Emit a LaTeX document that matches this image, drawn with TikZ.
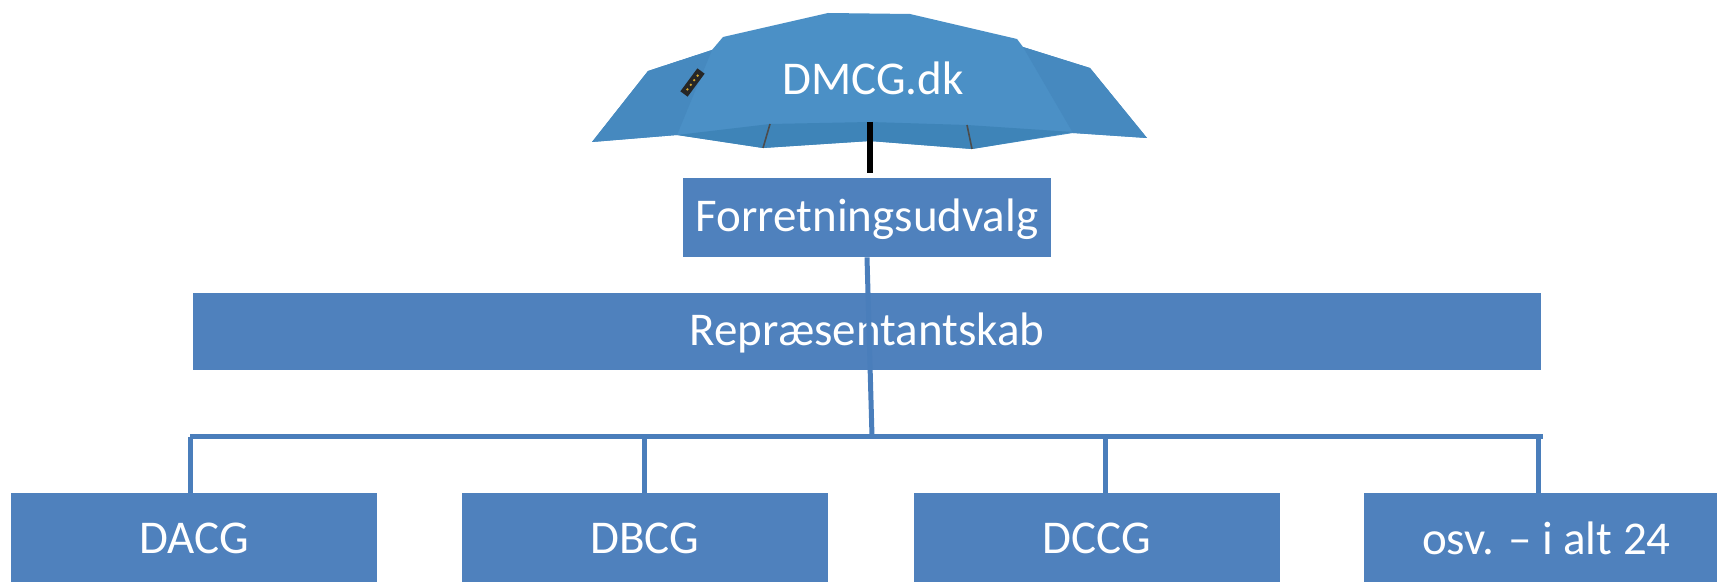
\documentclass[tikz,border=0pt]{standalone}
\usepackage{fontspec}
\setmainfont{Carlito}
\definecolor{boxblue}{HTML}{4F81BD}
\definecolor{lineblue}{HTML}{4A7EBB}
\definecolor{canopy}{HTML}{4B90C6}
\definecolor{canopyside}{HTML}{4689BF}
\definecolor{canopyunder}{HTML}{3E84B8}
\begin{document}
\begin{tikzpicture}[x=0.5pt, y=-0.5pt,
  orgbox/.style={shape=rectangle, fill=boxblue, text=white, inner sep=0pt, font=\fontsize{23.5}{28}\selectfont},
  link/.style={draw=lineblue, line width=2.5pt}]
\useasboundingbox (0,0) rectangle (1717,582);

% umbrella
\fill[canopy] (592,142) -- (648,71) -- (712,50) -- (723,37) -- (828,13) -- (910,14) -- (1017,39) -- (1023,47) -- (1090,68) -- (1147,138) -- (1073,133) -- (972,149) -- (870,141) -- (763,148) -- (677,135) -- cycle;
\fill[canopyside] (592,142) -- (648,71) -- (712,50) -- (677,135) -- cycle;
\fill[canopyside] (1023,47) -- (1090,68) -- (1147,138) -- (1073,133) -- cycle;
\fill[canopyunder] (677,135) -- (770,124) -- (870,122) -- (967,125) -- (1073,132)
  -- (972,149) -- (870,141) -- (763,148) -- cycle;
\draw[black!70, line width=0.8pt] (770,124) -- (763,148) (967,125) -- (972,149);
\draw[black!85, line width=4.5pt] (684,94) -- (701,71);
\foreach \px/\py in {687.4/89.4, 690.8/84.8, 694.2/80.2, 697.6/75.6}
  \fill[brown!70!yellow] (\px,\py) circle (1.3);
\coordinate (poletop) at (870,122);
\coordinate (polebot) at (870,173);
\draw[black, line width=3pt] (poletop) -- (polebot);
\node[text=white, font=\fontsize{23.5}{28}\selectfont] (dmcg) at (873,78) {DMCG.dk};

\node[orgbox, text height=19pt, text depth=5pt, minimum width=184pt, minimum height=39.5pt] (fu) at (867,217.5) {Forretningsudvalg};
\node[orgbox, text height=19pt, text depth=5pt, minimum width=674pt, minimum height=38.5pt] (rep) at (867,331.5) {Repræsentantskab};
\node[orgbox, minimum width=183pt, minimum height=45pt] (dacg) at (194,538) {DACG};
\node[orgbox, minimum width=183pt, minimum height=45pt] (dbcg) at (644.5,538) {DBCG};
\node[orgbox, minimum width=183pt, minimum height=45pt] (dccg) at (1096.5,538) {DCCG};
\node[orgbox, minimum width=183pt, minimum height=45pt] (osv) at (1546.5,538) {osv. – i alt 24};

\coordinate (hub) at (872,436.5);
\coordinate (busl) at (190,436.5);
\coordinate (busr) at (1543,436.5);
\draw[link] (fu.south) -- (hub);
\draw[link] (busl) -- (busr);
\foreach \n/\dx in {dacg/-2pt, dbcg/0pt, dccg/4.25pt, osv/-4.25pt}
  \draw[link] ([xshift=\dx]\n.north) -- ([xshift=\dx]\n.north |- busl);

\end{tikzpicture}
\end{document}
